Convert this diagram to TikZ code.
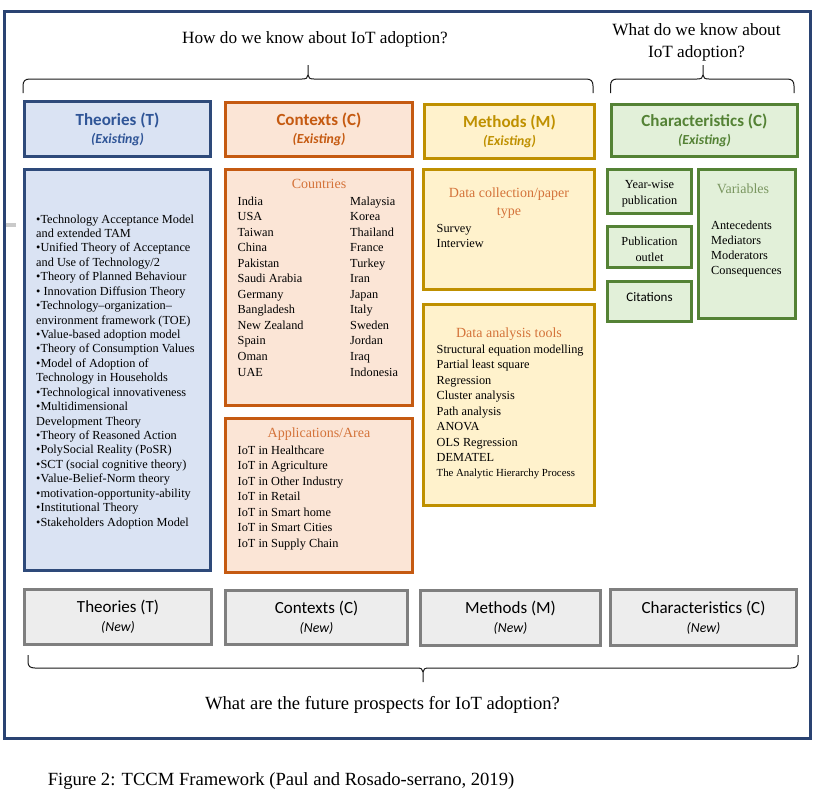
\documentclass[tikz,border=0pt]{standalone}
\usepackage{fontspec}
\setmainfont{Liberation Serif}
\newfontfamily\calfont{Carlito}
\definecolor{navy}{HTML}{2A4372}
\definecolor{tborder}{HTML}{2E4A7A}
\definecolor{tblue}{HTML}{2F5597}
\definecolor{tfill}{HTML}{DAE3F3}
\definecolor{corange}{HTML}{C55A11}
\definecolor{cfill}{HTML}{FBE5D6}
\definecolor{subor}{HTML}{D4733A}
\definecolor{myellow}{HTML}{BF9000}
\definecolor{mfill}{HTML}{FFF2CC}
\definecolor{cgreen}{HTML}{548235}
\definecolor{chfill}{HTML}{E2F0D9}
\definecolor{vgreen}{HTML}{7A9660}
\definecolor{nfill}{HTML}{EDEDED}
\definecolor{ngray}{HTML}{7F7F7F}
\definecolor{artgray}{HTML}{CACACA}
\newcommand\mkbox[7]{%
  \node[#2, minimum width={(#5-#3)*1pt}, minimum height={(#6-#4)*1pt}, anchor=north west] (#1) at (#3,#4) {#7};}
\tikzset{
  bx/.style={rectangle, inner sep=0pt, outer sep=0pt, line width=3pt, align=center},
  frm/.style={bx, draw=navy},
  tbox/.style={bx, draw=tborder, fill=tfill},
  cbox/.style={bx, draw=corange, fill=cfill},
  mbox/.style={bx, draw=myellow, fill=mfill},
  gbox/.style={bx, draw=cgreen, fill=chfill, line width=3.5pt},
  nbox/.style={bx, draw=ngray, fill=nfill, font=\calfont\fontsize{17}{19}\selectfont},
  hdr/.style={font=\calfont\bfseries\fontsize{17}{18}\selectfont},
  body/.style={inner sep=0pt, font=\fontsize{12.3}{14}\selectfont},
  small/.style={inner sep=0pt, font=\fontsize{10.8}{12}\selectfont},
  sub/.style={inner sep=0pt, font=\fontsize{14}{16}\selectfont, text=subor},
  quest/.style={inner sep=0pt, font=\fontsize{17.2}{20}\selectfont},
  bigq/.style={inner sep=0pt, font=\fontsize{18.6}{20}\selectfont},
  brc/.style={line width=1pt, black!90},
}
\begin{document}
\begin{tikzpicture}[x=1pt,y=-1pt]
\useasboundingbox (0,0) rectangle (826,793);
\fill[white] (0,0) rectangle (826,793);

% outer frame
\mkbox{frame}{frm}{4.5}{11.5}{810.5}{738.5}{}
\draw[artgray, line width=4pt] (5.5,224.5) -- (15.5,224.5);

% questions
\node[quest, anchor=base] (q1) at (315,43.7) {How do we know about IoT adoption?};
\node[quest, anchor=base] (q2a) at (696.5,35.6) {What do we know about};
\node[quest, anchor=base] (q2b) at (696.5,57.4) {IoT adoption?};
\node[bigq, anchor=base] (q3) at (382.5,709) {What are the future prospects for IoT adoption?};
\node[bigq, anchor=base] (cap) at (281,785) {Figure 2: TCCM Framework (Paul and Rosado-serrano, 2019)};

% braces
\draw[brc] (23,93) -- (23,86) .. controls (23,81) and (25,79) .. (30,79) -- (302,79)
  .. controls (306,79) and (308,78) .. (308,75) -- (308,65);
\draw[brc] (308,75) .. controls (308,78) and (310,79) .. (314,79) -- (586,79)
  .. controls (591,79) and (593,81) .. (593,86) -- (593,93);
\draw[brc] (610.5,93) -- (610.5,86) .. controls (610.5,81) and (612.5,79) .. (617.5,79) -- (697,79)
  .. controls (701,79) and (703,78) .. (703,75) -- (703,65);
\draw[brc] (703,75) .. controls (703,78) and (705,79) .. (709,79) -- (787,79)
  .. controls (792,79) and (794,81) .. (794,86) -- (794,93);
\draw[brc] (28,655) -- (28,662) .. controls (28,666) and (30,668) .. (35,668) -- (417,668)
  .. controls (421,668) and (423,669) .. (423,672) -- (423,682);
\draw[brc] (423,672) .. controls (423,669) and (425,668) .. (429,668) -- (791,668)
  .. controls (796,668) and (798,666) .. (798,662) -- (798,655);

% header boxes
\mkbox{hT}{tbox,hdr,text=tblue}{24.5}{101.5}{210.5}{156.5}{Theories (T)\\{\fontsize{13.8}{18}\selectfont\itshape (Existing)}}
\mkbox{hC}{cbox,hdr,text=corange}{225.5}{102.5}{412.5}{156.5}{Contexts (C)\\{\fontsize{13.8}{18}\selectfont\itshape (Existing)}}
\mkbox{hM}{mbox,hdr,text=myellow}{424.5}{104.5}{594.5}{158.5}{Methods (M)\\{\fontsize{13.8}{18}\selectfont\itshape (Existing)}}
\mkbox{hCh}{gbox,line width=3pt,hdr,text=cgreen}{611.5}{104.5}{797.5}{156.5}{Characteristics (C)\\{\fontsize{13.8}{18}\selectfont\itshape (Existing)}}

% body boxes
\mkbox{bT}{tbox}{24.5}{169.5}{210.5}{570.5}{}
\mkbox{bCo}{cbox}{225.5}{169.5}{412.5}{405.5}{}
\mkbox{bAp}{cbox}{225.5}{418.5}{412.5}{572.5}{}
\mkbox{bDc}{mbox}{423.5}{169.5}{594.5}{289.5}{}
\mkbox{bDa}{mbox}{423.5}{304.5}{594.5}{505}{}
\mkbox{bYw}{gbox}{607.5}{169.5}{691.5}{213.5}{}
\mkbox{bPo}{gbox}{607.5}{226.5}{691.5}{267.5}{}
\mkbox{bCi}{gbox}{607.5}{281.5}{691.5}{321.5}{}
\mkbox{bVa}{gbox}{698.5}{169.5}{795.5}{318.5}{}

% new boxes
\mkbox{nT}{nbox}{24.5}{589.5}{211.5}{644.5}{Theories (T)\\{\fontsize{13.8}{19}\selectfont\itshape (New)}}
\mkbox{nC}{nbox}{225.5}{590.5}{407.5}{644.5}{Contexts (C)\\{\fontsize{13.8}{19}\selectfont\itshape (New)}}
\mkbox{nM}{nbox}{420.5}{590.5}{600.5}{645.5}{Methods (M)\\{\fontsize{13.8}{19}\selectfont\itshape (New)}}
\mkbox{nCh}{nbox}{610.5}{589.5}{796.5}{645.5}{Characteristics (C)\\{\fontsize{13.8}{19}\selectfont\itshape (New)}}

% theories list
\foreach \t [count=\i from 0] in {%
  {\textbullet Technology Acceptance Model},
  {and extended TAM},
  {\textbullet Unified Theory of Acceptance},
  {and Use of Technology/2},
  {\textbullet Theory of Planned Behaviour},
  {\textbullet\ Innovation Diffusion Theory},
  {\textbullet Technology–organization–},
  {environment framework (TOE)},
  {\textbullet Value-based adoption model},
  {\textbullet Theory of Consumption Values},
  {\textbullet Model of Adoption of},
  {Technology in Households},
  {\textbullet Technological innovativeness},
  {\textbullet Multidimensional},
  {Development Theory},
  {\textbullet Theory of Reasoned Action},
  {\textbullet PolySocial Reality (PoSR)},
  {\textbullet SCT (social cognitive theory)},
  {\textbullet Value-Belief-Norm theory},
  {\textbullet motivation-opportunity-ability},
  {\textbullet Institutional Theory},
  {\textbullet Stakeholders Adoption Model}}
  \node[body, anchor=base west] (th\i) at (36,{223+\i*14.43}) {\t};

% countries
\node[sub, anchor=base] (cohd) at (319,188.6) {Countries};
\foreach \t [count=\i from 0] in {India,USA,Taiwan,China,Pakistan,Saudi Arabia,Germany,Bangladesh,New Zealand,Spain,Oman,UAE}
  \node[body, anchor=base west] (cl\i) at (237.5,{205+\i*15.55}) {\t};
\foreach \t [count=\i from 0] in {Malaysia,Korea,Thailand,France,Turkey,Iran,Japan,Italy,Sweden,Jordan,Iraq,Indonesia}
  \node[body, anchor=base west] (cr\i) at (350,{205+\i*15.55}) {\t};

% applications
\node[sub, anchor=base] (aphd) at (319,437.6) {Applications/Area};
\foreach \t [count=\i from 0] in {IoT in Healthcare,IoT in Agriculture,IoT in Other Industry,IoT in Retail,IoT in Smart home,IoT in Smart Cities,IoT in Supply Chain}
  \node[body, anchor=base west] (ap\i) at (237.5,{454+\i*15.5}) {\t};

% data collection
\node[sub, anchor=base] (dchd1) at (509,197.6) {Data collection/paper};
\node[sub, anchor=base] (dchd2) at (509,215.6) {type};
\node[body, anchor=base west] (dc1) at (436.5,232) {Survey};
\node[body, anchor=base west] (dc2) at (436.5,247) {Interview};

% data analysis
\node[sub, anchor=base] (dahd) at (509,337.6) {Data analysis tools};
\foreach \t [count=\i from 0] in {Structural equation modelling,Partial least square,Regression,Cluster analysis,Path analysis,ANOVA,OLS Regression,DEMATEL}
  \node[body, anchor=base west] (da\i) at (436.5,{353+\i*15.5}) {\t};
\node[small, anchor=base west] (da8) at (436.5,476.6) {The Analytic Hierarchy Process};

% characteristics
\node[body, anchor=base] (yw1) at (649.5,188) {Year-wise};
\node[body, anchor=base] (yw2) at (649.5,204) {publication};
\node[body, anchor=base] (po1) at (649.5,245) {Publication};
\node[body, anchor=base] (po2) at (649.5,261) {outlet};
\node[inner sep=0pt, anchor=base, font=\calfont\fontsize{13}{15}\selectfont] (ci) at (649.5,301) {Citations};
\node[sub, text=vgreen, anchor=base] (vahd) at (743,193.6) {Variables};
\foreach \t [count=\i from 0] in {Antecedents,Mediators,Moderators,Consequences}
  \node[body, anchor=base west] (va\i) at (711,{229+\i*15}) {\t};
\end{tikzpicture}
\end{document}
